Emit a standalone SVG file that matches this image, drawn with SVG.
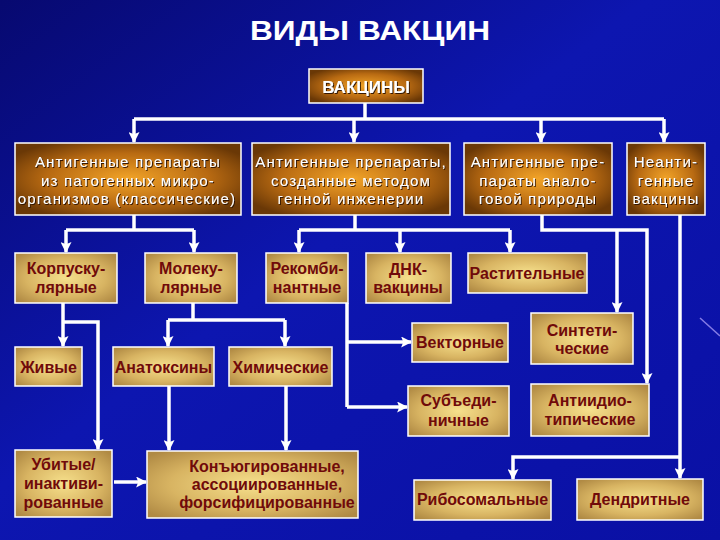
<svg xmlns="http://www.w3.org/2000/svg" width="720" height="540" viewBox="0 0 720 540">
<defs>
<linearGradient id="bg" x1="0" y1="0" x2="1" y2="1">
<stop offset="0" stop-color="#070970"/>
<stop offset="0.45" stop-color="#0d16b0"/>
<stop offset="1" stop-color="#0a10a4"/>
</linearGradient>
<radialGradient id="brown" cx="0.5" cy="0.5" r="0.6">
<stop offset="0" stop-color="#f2a428"/>
<stop offset="0.6" stop-color="#b86a12"/>
<stop offset="1" stop-color="#6a3806"/>
</radialGradient>
<radialGradient id="tan" cx="0.5" cy="0.5" r="0.65">
<stop offset="0" stop-color="#f6e08c"/>
<stop offset="0.6" stop-color="#d8b462"/>
<stop offset="1" stop-color="#b08a44"/>
</radialGradient>
<filter id="sh" x="-10%" y="-30%" width="120%" height="160%">
<feDropShadow dx="1" dy="1" stdDeviation="0.6" flood-color="#2a1000" flood-opacity="0.9"/>
</filter>
<marker id="ah" viewBox="0 0 10 10" refX="9" refY="5" markerWidth="11" markerHeight="11" markerUnits="userSpaceOnUse" orient="auto">
<path d="M0,0 L10,5 L0,10 L2,5 z" fill="#ffffff"/>
</marker>
<style>
.b{fill:url(#brown);stroke:#ffffff;stroke-width:1.5}
.t{fill:url(#tan);stroke:#ffffff;stroke-width:1.5}
.w{font-family:"Liberation Sans",Arial,sans-serif;font-size:15px;fill:#ffffff;text-anchor:middle;letter-spacing:1.2px;filter:url(#sh)}
.r{font-family:"Liberation Sans",Arial,sans-serif;font-size:16px;font-weight:bold;fill:#700a0a;text-anchor:middle}
.c path{fill:none;stroke:#ffffff;stroke-width:3.5}
.c .a{marker-end:url(#ah)}
</style>
</defs>
<rect x="0" y="0" width="720" height="540" fill="url(#bg)"/>
<path d="M700,318 L720,336" stroke="#b8a8ff" stroke-width="1.5" opacity="0.7"/>
<text x="370" y="40" font-family="'Liberation Sans',Arial,sans-serif" font-size="27" font-weight="bold" fill="#ffffff" text-anchor="middle" textLength="240" lengthAdjust="spacingAndGlyphs">ВИДЫ ВАКЦИН</text>

<g class="c" id="connectors">
<path d="M365,103 V119"/>
<path d="M134,119 H664"/>
<path class="a" d="M134,119 V142"/>
<path class="a" d="M354,119 V142"/>
<path class="a" d="M541,119 V142"/>
<path class="a" d="M664,119 V142"/>
<path d="M134,215 V230"/>
<path d="M66,230 H194"/>
<path class="a" d="M66,230 V252"/>
<path class="a" d="M194,230 V252"/>
<path d="M355,215 V230"/>
<path d="M299,230 H510"/>
<path class="a" d="M299,230 V252"/>
<path class="a" d="M400,230 V252"/>
<path class="a" d="M510,230 V252"/>
<path class="a" d="M542,215 V230 H647 V383"/>
<path class="a" d="M617,230 V312"/>
<path class="a" d="M680,215 V478"/>
<path class="a" d="M680,457 H513 V479"/>
<path class="a" d="M63,303 V346"/>
<path class="a" d="M63,322 H98 V449"/>
<path d="M193,303 V320"/>
<path d="M168,320 H285"/>
<path class="a" d="M168,320 V346"/>
<path class="a" d="M285,320 V346"/>
<path class="a" d="M169,386 V450"/>
<path class="a" d="M286,386 V450"/>
<path class="a" d="M114,482 H146"/>
<path d="M347,303 V407"/>
<path class="a" d="M347,342 H411"/>
<path class="a" d="M347,407 H407"/>
</g>

<g id="n-vakciny"><rect class="b" x="309" y="69" width="114" height="34"/>
<text x="366" y="93" font-family="'Liberation Sans',Arial,sans-serif" font-size="17" font-weight="bold" fill="#ffffff" text-anchor="middle" filter="url(#sh)">ВАКЦИНЫ</text></g>

<g id="n-classic"><rect class="b" x="15" y="143" width="226" height="72"/>
<text class="w" x="128" y="167">Антигенные препараты</text>
<text class="w" x="128" y="185.5">из патогенных микро-</text>
<text class="w" x="127" y="204">организмов (классические)</text></g>

<g id="n-genetic"><rect class="b" x="252" y="143" width="198" height="72"/>
<text class="w" x="351" y="167">Антигенные препараты,</text>
<text class="w" x="351" y="185.5">созданные методом</text>
<text class="w" x="351" y="204">генной инженерии</text></g>

<g id="n-analog"><rect class="b" x="464" y="143" width="148" height="72"/>
<text class="w" x="538" y="167">Антигенные пре-</text>
<text class="w" x="538" y="185.5">параты анало-</text>
<text class="w" x="538" y="204">говой природы</text></g>

<g id="n-nonantigen"><rect class="b" x="627" y="143" width="78" height="72"/>
<text class="w" x="666" y="167">Неанти-</text>
<text class="w" x="666" y="185.5">генные</text>
<text class="w" x="666" y="204">вакцины</text></g>

<g id="n-korp"><rect class="t" x="15" y="253" width="102" height="50"/>
<text class="r" x="66" y="274">Корпуску-</text>
<text class="r" x="66" y="293">лярные</text></g>

<g id="n-molek"><rect class="t" x="145" y="253" width="92" height="50"/>
<text class="r" x="191" y="274">Молеку-</text>
<text class="r" x="191" y="293">лярные</text></g>

<g id="n-rekomb"><rect class="t" x="266" y="253" width="82" height="50"/>
<text class="r" x="307" y="274">Рекомби-</text>
<text class="r" x="307" y="293">нантные</text></g>

<g id="n-dnk"><rect class="t" x="366" y="253" width="85" height="50"/>
<text class="r" x="408" y="275">ДНК-</text>
<text class="r" x="408" y="293">вакцины</text></g>

<g id="n-rast"><rect class="t" x="468" y="253" width="119" height="40"/>
<text class="r" x="527" y="279">Растительные</text></g>

<g id="n-zhiv"><rect class="t" x="15" y="347" width="67" height="39"/>
<text class="r" x="48.5" y="373">Живые</text></g>

<g id="n-anatox"><rect class="t" x="113" y="347" width="101" height="39"/>
<text class="r" x="163.5" y="373">Анатоксины</text></g>

<g id="n-chem"><rect class="t" x="229" y="347" width="103" height="39"/>
<text class="r" x="280.5" y="373">Химические</text></g>

<g id="n-vektor"><rect class="t" x="412" y="323" width="96" height="39"/>
<text class="r" x="460" y="348">Векторные</text></g>

<g id="n-sintet"><rect class="t" x="531" y="313" width="102" height="51"/>
<text class="r" x="582" y="336">Синтети-</text>
<text class="r" x="582" y="354">ческие</text></g>

<g id="n-subed"><rect class="t" x="408" y="386" width="101" height="50"/>
<text class="r" x="458.5" y="406">Субъеди-</text>
<text class="r" x="458.5" y="426">ничные</text></g>

<g id="n-antiid"><rect class="t" x="531" y="384" width="118" height="52"/>
<text class="r" x="590" y="406">Антиидио-</text>
<text class="r" x="590" y="425">типические</text></g>

<g id="n-ubit"><rect class="t" x="15" y="450" width="97" height="67"/>
<text class="r" x="63.5" y="470">Убитые/</text>
<text class="r" x="63.5" y="489">инактиви-</text>
<text class="r" x="63.5" y="508">рованные</text></g>

<g id="n-konyug"><rect class="t" x="147" y="451" width="211" height="67"/>
<text class="r" x="267" y="472">Конъюгированные,</text>
<text class="r" x="267" y="490">ассоциированные,</text>
<text class="r" x="267" y="508">форсифицированные</text></g>

<g id="n-ribos"><rect class="t" x="414" y="480" width="137" height="40"/>
<text class="r" x="482.5" y="505">Рибосомальные</text></g>

<g id="n-dendr"><rect class="t" x="577" y="479" width="126" height="41"/>
<text class="r" x="640" y="505">Дендритные</text></g>
</svg>
